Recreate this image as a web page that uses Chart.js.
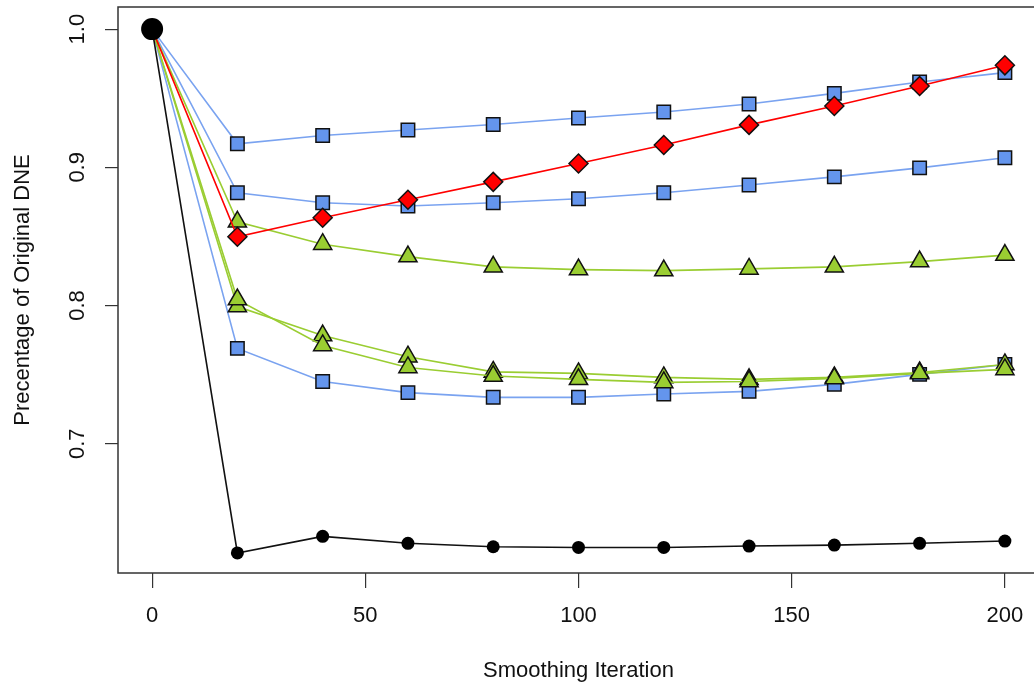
<!DOCTYPE html>
<html>
<head>
<meta charset="utf-8">
<script src="https://cdn.jsdelivr.net/npm/chart.js@4/dist/chart.umd.min.js"></script>
<style>
  html, body { margin: 0; padding: 0; background: #fff; overflow: hidden; }
  #wrap { width: 1040px; height: 685px; }
</style>
</head>
<body>
<div id="wrap"><canvas id="graph" width="1040" height="685"></canvas></div>
<script>
// smoothing iterations on the x axis
const iterations = [0, 20, 40, 60, 80, 100, 120, 140, 160, 180, 200];
const xTicks = [0, 50, 100, 150, 200];
const yTicks = [0.7, 0.8, 0.9, 1.0];

// fraction of the original DNE kept after each run
const blackRun = [1.0, 0.621, 0.633, 0.628, 0.6255, 0.625, 0.625, 0.626, 0.6267, 0.628, 0.6296];
const blueTop = [1.0, 0.917, 0.923, 0.927, 0.931, 0.9357, 0.940, 0.9458, 0.9535, 0.9617, 0.9685];
const blueMid = [1.0, 0.8816, 0.8744, 0.872, 0.8744, 0.8773, 0.8816, 0.8872, 0.8931, 0.8996, 0.9069];
const blueLow = [1.0, 0.769, 0.7451, 0.737, 0.7336, 0.7336, 0.736, 0.7379, 0.743, 0.7502, 0.7574];
const redRun = [1.0, 0.8498, 0.8635, 0.8765, 0.8895, 0.9028, 0.9162, 0.9307, 0.9444, 0.9588, 0.9738];
const greenTop = [1.0, 0.8606, 0.8444, 0.8354, 0.828, 0.826, 0.8253, 0.8265, 0.828, 0.8318, 0.8365];
const greenA = [1.0, 0.8043, 0.7711, 0.7552, 0.749, 0.7466, 0.7444, 0.7451, 0.7473, 0.7509, 0.7538];
const greenB = [1.0, 0.7993, 0.7783, 0.763, 0.752, 0.7509, 0.748, 0.7466, 0.748, 0.7516, 0.7574];

const FONT = "'Liberation Sans', Arial, Helvetica, sans-serif";
const BLUE = '#6495ED';
const BLUE_LINE = '#7AA3F0';
const GREEN = '#9ACD32';
const RED = '#FF0000';

function pts(vals) {
  return iterations.map((x, i) => ({ x: x, y: vals[i] }));
}

// first point of every run sits under the big black dot
function series(vals, color, fill, style, r, order) {
  return {
    data: pts(vals),
    borderColor: color,
    borderWidth: 1.6,
    backgroundColor: fill,
    pointStyle: style,
    pointRadius: c => c.dataIndex === 0 ? 0 : r,
    pointBorderColor: '#111',
    pointBorderWidth: 1.5,
    pointBackgroundColor: fill,
    order: order
  };
}

const datasets = [
  series(blueTop, BLUE_LINE, BLUE, 'rect', 9.5, 4),
  series(blueMid, BLUE_LINE, BLUE, 'rect', 9.5, 4),
  series(blueLow, BLUE_LINE, BLUE, 'rect', 9.5, 4),
  series(greenTop, GREEN, GREEN, 'triangle', 10.5, 3),
  series(greenA, GREEN, GREEN, 'triangle', 10.5, 3),
  series(greenB, GREEN, GREEN, 'triangle', 10.5, 3),
  series(redRun, RED, RED, 'rectRot', 9.5, 2),
  {
    data: pts(blackRun),
    borderColor: '#111',
    borderWidth: 1.6,
    pointStyle: 'circle',
    pointRadius: c => c.dataIndex === 0 ? 11 : 6.5,
    pointBorderWidth: 0,
    pointBackgroundColor: '#000',
    order: 1
  }
];

// plot frame and rotated y labels (R style)
const frame = {
  id: 'frame',
  afterDraw(chart) {
    const { ctx, chartArea: a } = chart;
    const y = chart.scales.y;
    ctx.save();
    ctx.strokeStyle = '#333';
    ctx.lineWidth = 1.5;
    ctx.strokeRect(a.left, a.top, a.right - a.left, a.bottom - a.top);
    ctx.fillStyle = '#111';
    ctx.font = '22px ' + FONT;
    ctx.textAlign = 'center';
    ctx.textBaseline = 'middle';
    yTicks.forEach(v => {
      ctx.save();
      ctx.translate(78, y.getPixelForValue(v));
      ctx.rotate(-Math.PI / 2);
      ctx.fillText(v.toFixed(1), 0, 0);
      ctx.restore();
    });
    ctx.restore();
  }
};

new Chart(document.getElementById('graph'), {
  type: 'line',
  data: { datasets: datasets },
  plugins: [frame],
  options: {
    responsive: false,
    animation: false,
    devicePixelRatio: 1,
    layout: { autoPadding: false, padding: { top: 7, right: 1, left: 0, bottom: 0 } },
    plugins: { legend: { display: false }, tooltip: { enabled: false } },
    scales: {
      x: {
        type: 'linear',
        min: -8,
        max: 208,
        afterBuildTicks: s => { s.ticks = xTicks.map(v => ({ value: v })); },
        afterFit: s => { s.height = 112; },
        border: { display: false },
        grid: { drawOnChartArea: false, drawTicks: true, tickLength: 15, color: '#333', lineWidth: 1.2 },
        ticks: { color: '#111', font: { family: FONT, size: 22 }, padding: 15, maxRotation: 0 },
        title: { display: true, text: 'Smoothing Iteration', color: '#111', font: { family: FONT, size: 22 }, padding: { top: 4, bottom: 1 } }
      },
      y: {
        type: 'linear',
        min: 0.6065,
        max: 1.016,
        afterBuildTicks: s => { s.ticks = yTicks.map(v => ({ value: v })); },
        afterFit: s => { s.width = 118; },
        border: { display: false },
        grid: { drawOnChartArea: false, drawTicks: true, tickLength: 13, color: '#333', lineWidth: 1.2 },
        ticks: { display: false },
        title: { display: true, text: 'Precentage of Original DNE', color: '#111', font: { family: FONT, size: 22 }, padding: { top: 10, bottom: 0 } }
      }
    }
  }
});
</script>
</body>
</html>
